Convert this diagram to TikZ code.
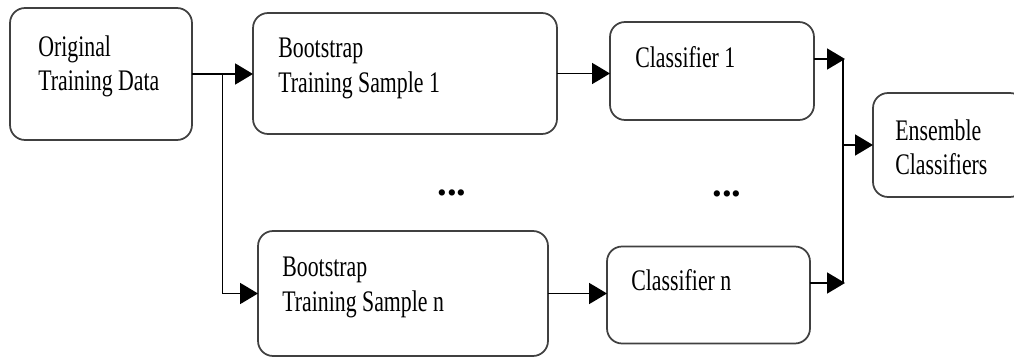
\documentclass[tikz,border=0pt]{standalone}
\usepackage{fontspec}
\setmainfont[FakeStretch=0.73]{Liberation Serif}
\newfontfamily\dotsfont{Liberation Serif}
\usetikzlibrary{arrows.meta,positioning,calc}

\tikzset{
  box/.style={draw=black!75, line width=1pt, rounded corners=0.3cm, outer sep=0pt},
  lbl/.style={inner sep=0pt, align=left, font=\fontsize{17}{19.4}\selectfont},
  dotlbl/.style={inner sep=0pt, font=\dotsfont\bfseries\fontsize{22}{22}\selectfont},
  arr/.style={line width=1pt, -{Triangle[length=0.36cm,width=0.42cm]}}
}

\begin{document}
\begin{tikzpicture}[x=0.02cm, y=-0.02cm]
    \clip (0,0) rectangle (1014,358);
    \useasboundingbox (0,0) rectangle (1014,358);
    % boxes
    \node[box, minimum width=3.64cm, minimum height=2.64cm] (orig) at (101,74) {};
    \node[box, minimum width=6.08cm, minimum height=2.42cm] (boot1) at (405,73.5) {};
    \node[box, minimum width=5.80cm, minimum height=2.50cm] (bootn) at (403,293.5) {};
    \node[box, minimum width=4.08cm, minimum height=1.96cm] (cls1) at (712,71) {};
    \node[box, minimum width=4.06cm, minimum height=1.94cm] (clsn) at (708.5,295) {};
    \node[box, minimum width=3.04cm, minimum height=2.08cm] (ens) at (949,145) {};
    % texts
    \node[lbl, below right=0.54cm and 0.56cm of orig.north west] (origtxt) {Original\\Training Data};
    \node[lbl, below right=0.5cm and 0.5cm of boot1.north west] (boot1txt) {Bootstrap\\Training Sample 1};
    \node[lbl, below right=0.52cm and 0.48cm of bootn.north west] (bootntxt) {Bootstrap\\Training Sample n};
    \node[lbl, below right=0.48cm and 0.5cm of cls1.north west] (cls1txt) {Classifier 1};
    \node[lbl, below right=0.46cm and 0.48cm of clsn.north west] (clsntxt) {Classifier n};
    \node[lbl, below right=0.52cm and 0.44cm of ens.north west] (enstxt) {Ensemble\\Classifiers};
    \node[dotlbl] (dots1) at (452,193) {...};
    \node[dotlbl] (dots2) at (727,194) {...};
    % connectors
    \coordinate (split) at ($(orig.east)!0.5!(orig.east -| boot1.west)$);
    \draw[arr] (orig.east) -- (orig.east -| boot1.west);
    \draw[arr] (split) |- (bootn.west);
    \draw[arr] (boot1.east) -- (boot1.east -| cls1.west);
    \draw[arr] (bootn.east) -- (bootn.east -| clsn.west);
    \coordinate (jtop) at (845,59);
    \coordinate (jbot) at (845,283);
    \coordinate (jmid) at (843,0);
    \draw[arr] (cls1.east |- jtop) -- (jtop);
    \draw[arr] (clsn.east |- jbot) -- (jbot);
    \draw[line width=1pt] (jmid |- jtop) -- (jmid |- jbot);
    \draw[arr] (jmid |- ens.west) -- (ens.west);
\end{tikzpicture}
\end{document}
